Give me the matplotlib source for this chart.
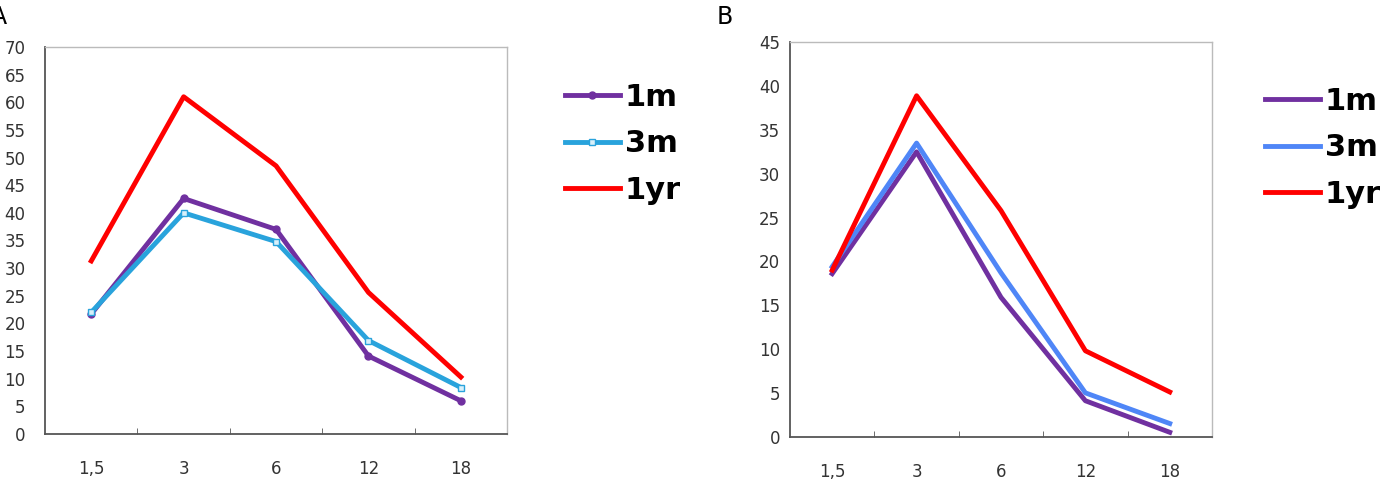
import matplotlib.pyplot as plt
import numpy as np

# data
months = ['1,5', '3', '6', '12', '18']
series_names = ['1m', '3m', '1yr']

a_1m = [21.7, 42.6, 37.0, 14.1, 6.0]
a_3m = [22.0, 40.0, 34.8, 16.9, 8.4]
a_1yr = [31.3, 61.0, 48.5, 25.6, 10.3]

b_1m = [18.6, 32.5, 15.9, 4.1, 0.5]
b_3m = [19.4, 33.5, 18.7, 5.0, 1.5]
b_1yr = [19.0, 38.9, 25.8, 9.8, 5.1]

plt.rcParams['font.family'] = ['DejaVu Sans']

fig = plt.figure(figsize=(13.95, 4.83), dpi=100)
axA = fig.add_axes([0.0323, 0.1015, 0.3312, 0.8012])
axB = fig.add_axes([0.5663, 0.0959, 0.3025, 0.8165])

x = np.arange(len(months))


def style_axes(ax, ymax, step, ypad):
    ax.set_xlim(-0.5, len(months) - 0.5)
    ax.set_ylim(0, ymax)
    ax.set_yticks(np.arange(0, ymax + 1, step))
    ax.set_xticks(x)
    ax.set_xticklabels(months)
    ax.set_xticks(np.arange(0.5, len(months) - 1, 1), minor=True)
    ax.tick_params(axis='x', which='major', length=0, pad=19, labelsize=12, labelcolor='#333333')
    ax.tick_params(axis='x', which='minor', direction='in', length=4, color='#555555')
    ax.tick_params(axis='y', length=0, pad=ypad, labelsize=12, labelcolor='#333333')
    for s in ['top', 'right']:
        ax.spines[s].set_color('#bbbbbb')
        ax.spines[s].set_linewidth(1)
    for s in ['left', 'bottom']:
        ax.spines[s].set_color('#555555')
        ax.spines[s].set_linewidth(1.3)


def add_legend(ax, xpos, ypos):
    ax.legend(loc='center left', bbox_to_anchor=(xpos, ypos), bbox_transform=fig.transFigure,
              frameon=False, prop={'weight': 'bold', 'size': 22}, handlelength=1.8,
              handletextpad=0.15, labelspacing=0.58, borderpad=0, borderaxespad=0)


# panel A
axA.plot(x, a_1m, color='#7030a0', lw=3.5, marker='o', ms=5, label=series_names[0])
axA.plot(x, a_3m, color='#29a3dc', lw=3.5, marker='s', ms=4, mfc='#d8f0fa', mec='#29a3dc',
         label=series_names[1])
axA.plot(x, a_1yr, color='#ff0000', lw=3.5, label=series_names[2])
style_axes(axA, 70, 5, 14)
add_legend(axA, 0.405, 0.702)

# panel B
axB.plot(x, b_1m, color='#7030a0', lw=3.5, label=series_names[0])
axB.plot(x, b_3m, color='#4f86f7', lw=3.5, label=series_names[1])
axB.plot(x, b_1yr, color='#ff0000', lw=3.5, label=series_names[2])
style_axes(axB, 45, 5, 7)
add_legend(axB, 0.9068, 0.694)

fig.text(0.005, 0.965, 'A', fontsize=17, va='center', ha='right')
fig.text(0.514, 0.965, 'B', fontsize=17, va='center', ha='left')

fig.savefig('out.png', dpi=100)
